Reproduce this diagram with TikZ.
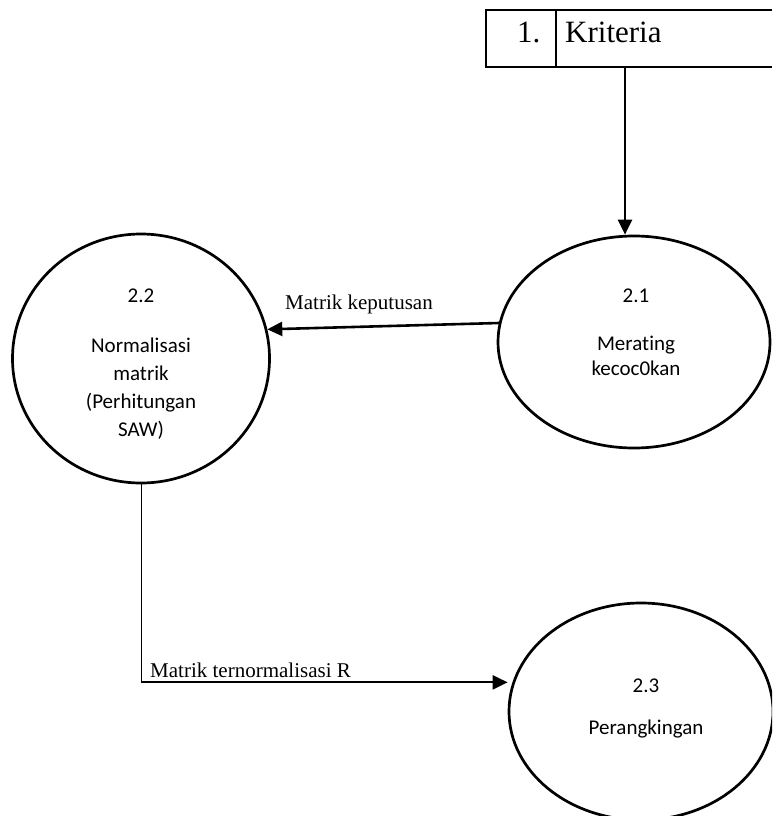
\documentclass[tikz,border=0pt]{standalone}
\usepackage{fontspec}
\setmainfont{Liberation Serif}
\newfontfamily\calib[Ligatures={NoCommon}]{Carlito}
\usetikzlibrary{arrows.meta,shapes.geometric}
\begin{document}
\begin{tikzpicture}[x=1pt,y=-1pt,
  proc/.style={ellipse,draw,line width=2.7pt,inner sep=0pt,minimum width=#1},
  proctext/.style={anchor=base,font=\calib\fontsize{21}{28}\selectfont,inner sep=0pt},
  flowlabel/.style={anchor=base west,font=\fontsize{21}{25}\selectfont,inner sep=0pt},
  storetext/.style={anchor=base west,font=\fontsize{31}{36}\selectfont,inner sep=0pt},
  flow/.style={line width=2.6pt,-{Triangle[length=15pt,width=14pt]}},
  storeline/.style={line width=1.5pt}]
\useasboundingbox (0,0) rectangle (772,816);
\clip (0,0) rectangle (772,816);

% data store "1. Kriteria"
\coordinate (stl) at (486,10);
\coordinate (sbl) at (486,67);
\coordinate (str) at (772,10);
\coordinate (sbr) at (772,67);
\coordinate (dtop) at (556,10);
\coordinate (dbot) at (556,67);
\draw[storeline] (str) -- (stl) -- (sbl) -- (sbr);
\draw[storeline] (dtop) -- (dbot);
\node[storetext] (sno) at (517,43) {1.};
\node[storetext] (sname) at (565,43) {Kriteria};
\coordinate (sout) at (625,67);

% processes
\node[proc=272pt,minimum height=212pt] (e21) at (634,342) {};
\node[proc=257pt,minimum height=249pt] (e22) at (141,358.5) {};
\node[proc=264pt,minimum height=217pt] (e23) at (641,711.5) {};

\node[proctext] (t21a) at (636,302) {2.1};
\node[proctext] (t21b) at (636,350) {Merating};
\node[proctext] (t21c) at (636,375) {kecoc0kan};

\node[proctext] (t22a) at (141,302) {2.2};
\node[proctext] (t22b) at (141,352) {Normalisasi};
\node[proctext] (t22c) at (141,380) {matrik};
\node[proctext] (t22d) at (141,408) {(Perhitungan};
\node[proctext] (t22e) at (141,436) {SAW)};

\node[proctext] (t23a) at (646,692) {2.3};
\node[proctext] (t23b) at (646,734) {Perangkingan};

% flows
\draw[flow] (sout) -- (e21.north -| sout);
\draw[flow] (e21.172.4) -- (e22.13.4);
\node[flowlabel] (l1) at (285,309) {Matrik keputusan};
\draw[line width=1pt] (e22.south) -- ++(0,198) coordinate (bend);
\draw[flow,line width=2.2pt] (bend) -- (e23.west |- bend);
\node[flowlabel] (l2) at (150,677) {Matrik ternormalisasi R};
\end{tikzpicture}
\end{document}
